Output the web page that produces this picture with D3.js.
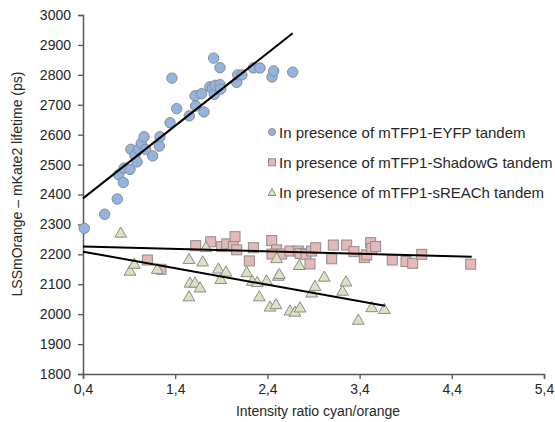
<!DOCTYPE html>
<html>
<head>
<meta charset="utf-8">
<script src="https://cdn.jsdelivr.net/npm/d3@7"></script>
<style>
  body { margin: 0; background: #fff; }
  svg text { font-family: "Liberation Sans", Arial, sans-serif; fill: #262626; }
</style>
</head>
<body>
<div id="chart"></div>
<script>
// data: [ratio, lifetime]
let eyfp = [
  [0.414, 2287], [0.635, 2334], [0.772, 2385], [0.787, 2466], [0.837, 2440],
  [0.845, 2488], [0.91, 2484], [0.92, 2551], [0.964, 2531], [0.986, 2509],
  [1.004, 2551], [1.032, 2571], [1.062, 2593], [1.08, 2551], [1.156, 2529],
  [1.228, 2562], [1.235, 2593], [1.344, 2640], [1.416, 2687], [1.365, 2789],
  [1.553, 2663], [1.622, 2696], [1.615, 2730], [1.687, 2737], [1.712, 2676],
  [1.777, 2760], [1.802, 2754], [1.824, 2735], [1.835, 2765], [1.817, 2856],
  [1.886, 2824], [1.886, 2767], [1.893, 2752], [2.067, 2775], [2.078, 2800],
  [2.124, 2800], [2.247, 2823], [2.32, 2823], [2.45, 2793], [2.468, 2813],
  [2.674, 2809]
]

let shadowG = [
  [1.098, 2181], [1.246, 2150], [1.622, 2229], [1.785, 2242], [1.904, 2226],
  [1.959, 2235], [2.049, 2259], [2.03, 2226], [2.067, 2215], [2.204, 2178],
  [2.248, 2222], [2.447, 2246], [2.5, 2215], [2.45, 2201], [2.555, 2201],
  [2.645, 2211], [2.735, 2211], [2.754, 2203], [2.819, 2200], [2.862, 2168],
  [2.88, 2211], [2.924, 2222], [3.097, 2185], [3.115, 2231], [3.26, 2231],
  [3.339, 2209], [3.451, 2189], [3.477, 2198], [3.52, 2239], [3.531, 2220],
  [3.574, 2226], [3.754, 2181], [3.903, 2176], [3.976, 2170], [4.074, 2200],
  [4.605, 2167]
]

let sREACh = [
  [0.809, 2272], [0.91, 2145], [0.957, 2168], [1.206, 2151], [1.55, 2184],
  [1.698, 2176], [1.734, 2224], [1.56, 2105], [1.615, 2105], [1.669, 2089],
  [1.55, 2059], [1.868, 2152], [1.951, 2142], [1.894, 2117], [2.176, 2140],
  [2.236, 2111], [2.29, 2107], [2.312, 2059], [2.392, 2112], [2.428, 2025],
  [2.493, 2033], [2.5, 2187], [2.518, 2128], [2.529, 2134], [2.645, 2012],
  [2.699, 2008], [2.754, 2022], [2.746, 2164], [2.88, 2072], [2.916, 2094],
  [3.017, 2125], [3.215, 2078], [3.252, 2109], [3.386, 1981], [3.531, 2023],
  [3.668, 2017]
]

// trend lines [x0, y0, x1, y1]
let eyfpTrend = [0.4, 2387, 2.674, 2939]
let shadowGTrend = [0.4, 2226, 4.616, 2192]
let sREAChTrend = [0.4, 2209, 3.675, 2028]

let xTicks = [0.4, 1.4, 2.4, 3.4, 4.4, 5.4]
let yTicks = [1800, 1900, 2000, 2100, 2200, 2300, 2400, 2500, 2600, 2700, 2800, 2900, 3000]

let legendLabels = [
  'In presence of mTFP1-EYFP tandem',
  'In presence of mTFP1-ShadowG tandem',
  'In presence of mTFP1-sREACh tandem'
]

let width = 555, height = 422

let svg = d3.select('#chart')
.append('svg')
.attr('width', width)
.attr('height', height)

let x = d3.scaleLinear().domain([0.4, 5.4]).range([83, 544])
let y = d3.scaleLinear().domain([1800, 3000]).range([374, 15])

let fmt = d => d3.format('.1f')(d).replace('.', ',')

let axisColor = '#595959'

// axes
let gx = svg.append('g')
.attr('transform', `translate(0, ${y(1800)})`)
.call(d3.axisBottom(x).tickValues(xTicks).tickFormat(fmt).tickSizeOuter(0).tickSize(5).tickPadding(5))

let gy = svg.append('g')
.attr('transform', `translate(${x(0.4)}, 0)`)
.call(d3.axisLeft(y).tickValues(yTicks).tickFormat(d3.format('d')).tickSizeOuter(0).tickSize(5).tickPadding(7))

svg.selectAll('.domain').attr('stroke', axisColor).attr('stroke-width', 1.5)
svg.selectAll('.tick line').attr('stroke', axisColor).attr('stroke-width', 1.3)
svg.selectAll('.tick text').style('font-size', '14px').attr('fill', '#262626')

// axis titles
svg.append('text')
.attr('x', 318)
.attr('y', 416)
.attr('text-anchor', 'middle')
.style('font-size', '14px')
.text('Intensity ratio cyan/orange')

svg.append('text')
.attr('transform', `translate(22, 184) rotate(-90)`)
.attr('text-anchor', 'middle')
.style('font-size', '14px')
.text('LSSmOrange – mKate2 lifetime (ps)')

// markers
let stroke = '#8c8c8c'
let colors = ['#92b4e0', '#e6b9b8', '#d7e4bd']

let marks = svg.append('g')

marks.selectAll('.sq')
.data(shadowG)
.join('rect')
.attr('class', 'sq')
.attr('x', d => x(d[0]) - 5)
.attr('y', d => y(d[1]) - 5)
.attr('width', 10)
.attr('height', 10)
.attr('fill', colors[1])
.attr('stroke', stroke)
.attr('stroke-width', 1)

let tri = d3.symbol().type(d3.symbolTriangle).size(60)

marks.selectAll('.tri')
.data(sREACh)
.join('path')
.attr('class', 'tri')
.attr('d', tri)
.attr('transform', d => `translate(${x(d[0])}, ${y(d[1]) + 1})`)
.attr('fill', colors[2])
.attr('stroke', stroke)
.attr('stroke-width', 1)

marks.selectAll('.dot')
.data(eyfp)
.join('circle')
.attr('class', 'dot')
.attr('cx', d => x(d[0]))
.attr('cy', d => y(d[1]))
.attr('r', 5.2)
.attr('fill', colors[0])
.attr('stroke', stroke)
.attr('stroke-width', 1)

// trend lines
svg.append('g')
.selectAll('line')
.data([eyfpTrend, shadowGTrend, sREAChTrend])
.join('line')
.attr('x1', d => x(d[0]))
.attr('y1', d => y(d[1]))
.attr('x2', d => x(d[2]))
.attr('y2', d => y(d[3]))
.attr('stroke', '#000')
.attr('stroke-width', 2)

// legend
let legend = svg.append('g')
.selectAll('g')
.data(legendLabels)
.join('g')
.attr('transform', (d, i) => `translate(272, ${132 + i * 30.3})`)

legend.append('text')
.attr('x', 7)
.attr('y', 5.5)
.style('font-size', '15px')
.text(d => d)

legend.filter((d, i) => i == 0).append('circle')
.attr('r', 3.5).attr('fill', colors[0]).attr('stroke', stroke)

legend.filter((d, i) => i == 1).append('rect')
.attr('x', -3.5).attr('y', -3.5).attr('width', 7).attr('height', 7)
.attr('fill', colors[1]).attr('stroke', stroke)

legend.filter((d, i) => i == 2).append('path')
.attr('d', d3.symbol().type(d3.symbolTriangle).size(28))
.attr('transform', 'translate(0, 0.5)')
.attr('fill', colors[2]).attr('stroke', stroke)
</script>
</body>
</html>
